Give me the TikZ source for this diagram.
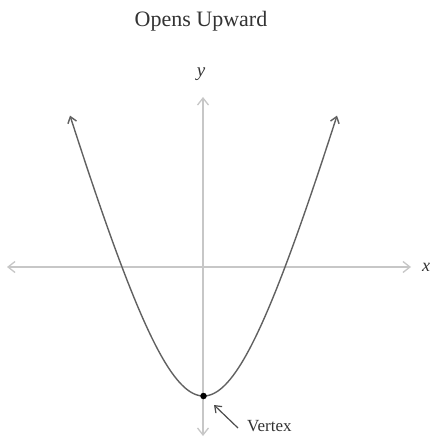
\documentclass[tikz,border=0pt]{standalone}
\usepackage{fontspec}
\setmainfont{Liberation Serif}
\usetikzlibrary{arrows.meta}
\begin{document}
\begin{tikzpicture}[x=1pt,y=-1pt,
  axis/.style={draw=black!22,line width=1.3pt,{Straight Barb[length=7pt,width=11pt]}-{Straight Barb[length=7pt,width=11pt]}},
  curve/.style={draw=black!62,line width=1.4pt,{Straight Barb[length=6pt,width=9pt]}-{Straight Barb[length=6pt,width=9pt]}},
  pointer/.style={draw=black!70,line width=1.2pt,-{Straight Barb[length=6pt,width=9pt]}},
  lbl/.style={inner sep=0pt,text=black!80}]
\useasboundingbox[fill=white] (0,0) rectangle (433,438);
% title
\node[lbl,font=\fontsize{22}{26}\selectfont] (title) at (201,21) {Opens Upward};
% axes
\coordinate (yTop) at (203,97);
\coordinate (yBot) at (203,436);
\coordinate (xL) at (7,267);
\coordinate (xR) at (411,267);
\draw[axis] (yBot) -- (yTop);
\draw[axis] (xL) -- (xR);
\node[lbl,font=\fontsize{19}{22}\selectfont\itshape] (ylab) at (201,74) {y};
\node[lbl,font=\fontsize{18}{22}\selectfont\itshape] (xlab) at (426,267) {x};
% parabola
\draw[curve] plot[domain=-133.5:133.5,samples=121] ({203.5+\x},{396-258.6*(sqrt(1+(\x/73)^2)-1)});
% vertex
\node[circle,fill=black,inner sep=0pt,minimum size=6.5pt] (v) at (203.5,396) {};
\node[lbl,font=\fontsize{17}{20}\selectfont,anchor=west] (vlab) at (247,426) {Vertex};
\coordinate (vtail) at (238,428);
\coordinate (vhead) at (214,405);
\draw[pointer] (vtail) -- (vhead);
\end{tikzpicture}
\end{document}
